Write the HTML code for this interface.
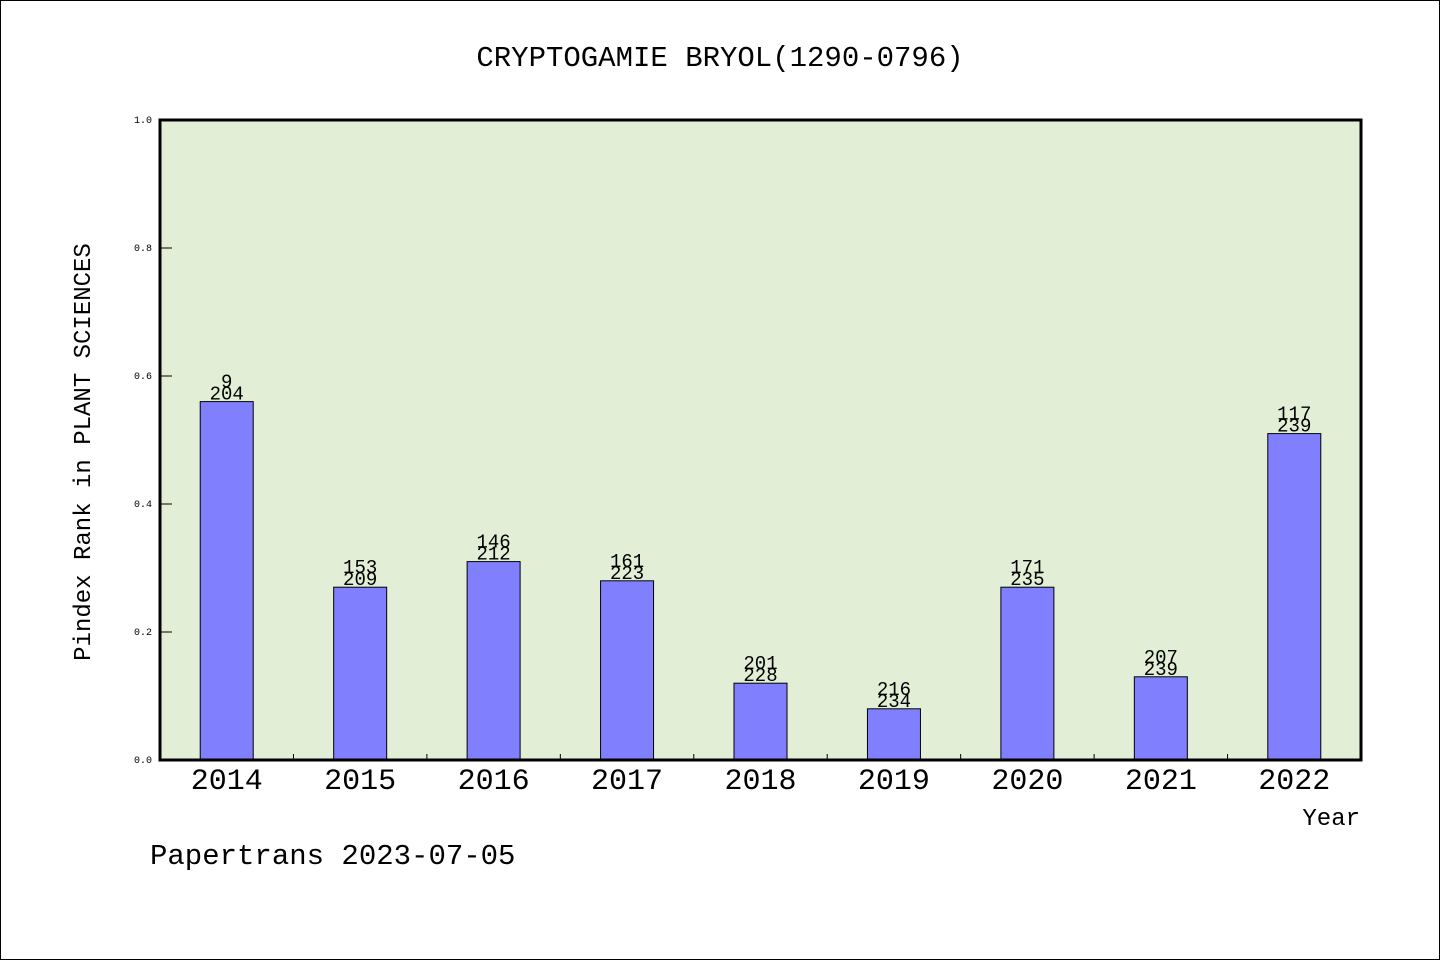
<!DOCTYPE html>
<html><head><meta charset="utf-8"><style>
body{margin:0;background:#fff}
svg text{font-family:"Liberation Mono","WenQuanYi Zen Hei",monospace;fill:#000}
</style></head><body>
<svg id="c" width="1440" height="960" xmlns="http://www.w3.org/2000/svg">
<rect x="0.5" y="0.5" width="1439" height="959" fill="#fff" stroke="#000"/>
<text x="720" y="66" font-size="29" text-anchor="middle">CRYPTOGAMIE BRYOL(1290-0796)</text>
<rect x="160" y="120" width="1201" height="640" fill="#e2efd6"/>
<g id="bars"></g>
<rect x="160" y="120" width="1201" height="640" fill="none" stroke="#000" stroke-width="3"/>
<text transform="translate(90,452) rotate(-90)" font-size="24" text-anchor="middle">Pindex Rank in PLANT SCIENCES</text>
<text x="1360" y="825" font-size="24" text-anchor="end">Year</text>
<text x="150" y="864" font-size="29">Papertrans 2023-07-05</text>
</svg>
<script>
const years=["2014","2015","2016","2017","2018","2019","2020","2021","2022"];
const values=[0.56,0.27,0.31,0.28,0.12,0.08,0.27,0.13,0.51];
const topLabels=["9","153","146","161","201","216","171","207","117"];
const bottomLabels=["204","209","212","223","228","234","235","239","239"];
const yTicks=[0,0.2,0.4,0.6,0.8,1.0];
const ns="http://www.w3.org/2000/svg";
const X0=160,W=1201,Y0=760,H=640;
const band=W/years.length;
const y=v=>Y0-v*H;
const xc=i=>X0+band*(i+0.5);
const g=document.getElementById('bars');
const svg=document.getElementById('c');
function mk(t,a,p){const e=document.createElementNS(ns,t);for(const k in a)e.setAttribute(k,a[k]);(p||g).appendChild(e);return e;}
yTicks.forEach(t=>{
 const l=mk('line',{x1:X0,x2:X0+12,y1:y(t),y2:y(t),stroke:'#000'});
 
 
 const tx=mk('text',{x:X0-8,y:y(t)+3,'font-size':10,'text-anchor':'end'});
 tx.textContent=t.toFixed(1);
 
 
});
years.forEach((yr,i)=>{
 if(i>0){const l=mk('line',{x1:X0+band*i,x2:X0+band*i,y1:Y0,y2:Y0-6,stroke:'#000'});
 
 }
 const r=mk('rect',{x:xc(i)-26.5,y:y(values[i]),width:53,height:values[i]*H,fill:'#8080ff',stroke:'#000'});
 
 
 const t1=mk('text',{x:xc(i),y:y(values[i])-14,'font-size':19,'text-anchor':'middle'});
 t1.textContent=topLabels[i];
 
 
 const t2=mk('text',{x:xc(i),y:y(values[i])-2,'font-size':19,'text-anchor':'middle'});
 t2.textContent=bottomLabels[i];
 
 
 const xl=mk('text',{x:xc(i),y:789,'font-size':30,'text-anchor':'middle'},svg);
 xl.textContent=yr;
 
 
});
</script>
</body></html>
